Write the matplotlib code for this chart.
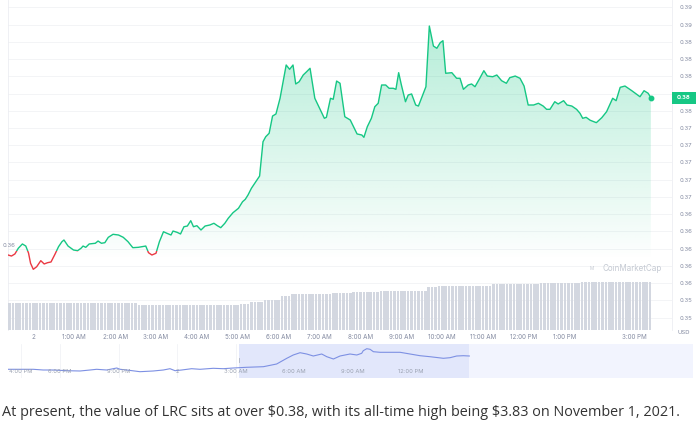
import numpy as np
import matplotlib
matplotlib.use('Agg')
import matplotlib.pyplot as plt
from matplotlib.patches import Polygon, Rectangle, Circle
from matplotlib import transforms

# ---------------- data ----------------
# minutes after midnight (day "2"), price in USD
minutes = [-37, -32, -27, -22, -16, -11, -7, -4, 0, 5, 11, 16, 21, 26, 32, 37, 42, 45, 51, 59,
           65, 70, 73, 77, 82, 91, 95, 100, 105, 110, 117, 125, 132, 139, 146, 154, 165, 169, 174, 180,
           185, 191, 196, 202, 205, 211, 216, 221, 226, 231, 235, 240, 246, 252, 259, 265, 270, 275, 281, 286,
           293, 301, 307, 311, 315, 320, 328, 332, 337, 341, 346, 351, 356, 362, 371, 376, 381, 385, 390, 396,
           401, 406, 413, 420, 427, 430, 436, 440, 445, 450, 457, 465, 475, 482, 485, 490, 496, 501, 506, 511,
           517, 522, 528, 532, 536, 540, 546, 550, 555, 561, 565, 576, 581, 587, 592, 597, 601, 605, 614, 621,
           626, 631, 638, 643, 648, 655, 661, 666, 674, 680, 687, 694, 699, 707, 714, 720, 726, 734, 741, 748,
           753, 758, 765, 770, 778, 783, 790, 797, 802, 806, 811, 817, 826, 834, 841, 850, 855, 861, 868, 878,
           890, 896, 902, 906]
price = [0.35927, 0.35915, 0.35939, 0.36005, 0.36055, 0.36031, 0.35950, 0.35831, 0.35761, 0.35791,
         0.35861, 0.35823, 0.35838, 0.35846, 0.35939, 0.36023, 0.36081, 0.36101, 0.36031, 0.35985,
         0.35977, 0.36005, 0.36031, 0.36016, 0.36055, 0.36063, 0.36089, 0.36063, 0.36070, 0.36132,
         0.36167, 0.36159, 0.36132, 0.36081, 0.36012, 0.36016, 0.36031, 0.35954, 0.35927, 0.35947,
         0.36081, 0.36197, 0.36179, 0.36159, 0.36205, 0.36190, 0.36171, 0.36255, 0.36263, 0.36325,
         0.36255, 0.36267, 0.36217, 0.36263, 0.36275, 0.36295, 0.36267, 0.36244, 0.36295, 0.36353,
         0.36418, 0.36469, 0.36545, 0.36573, 0.36623, 0.36701, 0.36797, 0.36843, 0.37241, 0.37299,
         0.37339, 0.37539, 0.37563, 0.37745, 0.38131, 0.38081, 0.38131, 0.37911, 0.37937, 0.38015,
         0.38053, 0.38093, 0.37745, 0.37629, 0.37513, 0.37524, 0.37745, 0.37733, 0.37945, 0.37919,
         0.37531, 0.37493, 0.37331, 0.37319, 0.37292, 0.37415, 0.37513, 0.37647, 0.37687, 0.37899,
         0.37899, 0.37861, 0.37861, 0.37849, 0.38042, 0.37899, 0.37705, 0.37783, 0.37795, 0.37667,
         0.37655, 0.37879, 0.38583, 0.38351, 0.38325, 0.38390, 0.38413, 0.38035, 0.38042, 0.37977,
         0.37977, 0.37849, 0.37899, 0.37911, 0.37879, 0.37977, 0.38065, 0.38003, 0.37995, 0.38015,
         0.37949, 0.37919, 0.37984, 0.38003, 0.37977, 0.37887, 0.37667, 0.37667, 0.37687, 0.37655,
         0.37617, 0.37617, 0.37705, 0.37679, 0.37717, 0.37667, 0.37655, 0.37617, 0.37571, 0.37513,
         0.37524, 0.37490, 0.37462, 0.37520, 0.37589, 0.37745, 0.37717, 0.37872, 0.37887, 0.37833,
         0.37763, 0.37833, 0.37803, 0.37752]
ref_price = 0.3597

price_ticks = [0.352, 0.354, 0.356, 0.358, 0.360, 0.362, 0.364, 0.366, 0.368, 0.370,
               0.372, 0.374, 0.376, 0.378, 0.380, 0.382, 0.384, 0.386, 0.388]
time_ticks = [0, 60, 120, 180, 240, 300, 360, 420, 480, 540, 600, 660, 720, 780, 900]
time_labels = ['2', '1:00 AM', '2:00 AM', '3:00 AM', '4:00 AM', '5:00 AM', '6:00 AM', '7:00 AM',
               '8:00 AM', '9:00 AM', '10:00 AM', '11:00 AM', '12:00 PM', '1:00 PM', '3:00 PM']

# volume bars every 5 minutes starting 23:25, read as step levels (millions USD)
vol_start, vol_step = -35, 5
vol_levels = [52.4, 49.0, 51.0, 55.6, 59.0, 67.0, 70.4, 72.0, 73.6, 75.6, 77.6, 84.4, 87.6,
              90.4, 92.4, 94.4, 95.6]
vol_counts = [38, 30, 3, 4, 5, 3, 7, 5, 6, 8, 14, 3, 16, 14, 12, 10, 11]

# navigator (hours relative to midnight)
nav_hours = [-8.65, -8.05, -7.37, -6.86, -6.34, -5.66, -4.97, -4.46, -4.12, -3.61, -3.27, -3.09,
             -2.92, -2.58, -1.90, -1.22, -0.70, -0.36, -0.10, 0.24, 0.75, 1.18, 1.86, 2.37, 2.89,
             3.57, 4.43, 5.11, 5.63, 5.96, 6.31, 6.65, 6.99, 7.42, 7.68, 8.02, 8.36, 8.87, 9.22,
             9.47, 9.55, 9.73, 9.90, 10.07, 10.41, 10.92, 11.44, 11.95, 12.46, 12.97, 13.66, 14.00,
             14.34, 14.68, 14.99]
nav_price = [0.35853, 0.35853, 0.35853, 0.35760, 0.35760, 0.35667, 0.35628, 0.35760, 0.35853,
             0.35760, 0.35932, 0.36025, 0.35853, 0.35760, 0.35535, 0.35628, 0.35760, 0.35932,
             0.35667, 0.35760, 0.35932, 0.35853, 0.35985, 0.35932, 0.36025, 0.36118, 0.36197,
             0.36555, 0.37310, 0.37747, 0.38051, 0.37879, 0.37614, 0.37879, 0.37522, 0.37217,
             0.37614, 0.37879, 0.37747, 0.37972, 0.38316, 0.38581, 0.38502, 0.38184, 0.38104,
             0.38104, 0.38104, 0.37879, 0.37654, 0.37522, 0.37310, 0.37389, 0.37614, 0.37654,
             0.37614]
nav_ticks = [-8, -6, -3, 0, 3, 6, 9, 12]
nav_labels = ['4:00 PM', '6:00 PM', '9:00 PM', '2', '3:00 AM', '6:00 AM', '9:00 AM', '12:00 PM']
nav_select = (3.18, 14.99)

caption = ("At present, the value of LRC sits at over $0.38, with its all-time high being "
           "$3.83 on November 1, 2021.")

# ---------------- style ----------------
GREEN = '#16c784'
RED = '#ea3943'
GRAY = '#858ca2'
plt.rcParams['font.family'] = ['Inter', 'DejaVu Sans']
plt.rcParams['text.parse_math'] = False

W, H = 698, 446
fig = plt.figure(figsize=(W / 100, H / 100), dpi=100)
fig.patch.set_facecolor('white')

def fx(px):
    return px / W

def fy(py):
    return 1 - py / H

# main price axes
ax = fig.add_axes([fx(8), fy(330), fx(672) - fx(8), 330 / H])
ax.set_zorder(1)
xmin, xmax = -37.1, 937.0
ybot, ytop = 0.35057, 0.38885
ax.set_xlim(xmin, xmax)
ax.set_ylim(ybot, ytop)

ax.yaxis.tick_right()
ax.set_yticks(price_ticks)
ax.set_yticklabels([f'{v:.2f}' for v in price_ticks])
ax.set_xticks(time_ticks)
ax.set_xticklabels(time_labels)
ax.get_xticklabels()[-1].set_horizontalalignment('right')
ax.tick_params(axis='y', length=0, pad=5.5, labelsize=4.3, labelcolor=GRAY)
ax.tick_params(axis='x', length=0, pad=3.2, labelsize=4.5, labelcolor=GRAY)
ax.yaxis.grid(True, color='#f1f2f5', lw=0.6)
ax.set_axisbelow(True)
for s in ['top', 'bottom']:
    ax.spines[s].set_visible(False)
for s in ['left', 'right']:
    ax.spines[s].set_color('#eceef2')
    ax.spines[s].set_linewidth(0.6)

mins = np.array(minutes, dtype=float)
pr = np.array(price)

# gradient fill under line
verts = list(zip(mins, pr)) + [(mins[-1], ybot), (mins[0], ybot)]
poly = Polygon(verts, closed=True, facecolor='none', edgecolor='none')
ax.add_patch(poly)
ny = 300
yy = np.linspace(ytop, ybot, ny)
alpha = np.clip((yy - 0.3588) / (ytop - 0.3588), 0, 1) ** 0.9 * 0.34
grad = np.zeros((ny, 2, 4))
rgb = matplotlib.colors.to_rgb(GREEN)
grad[..., 0], grad[..., 1], grad[..., 2] = rgb
grad[..., 3] = alpha[:, None]
im = ax.imshow(grad, extent=[xmin, xmax, ybot, ytop], aspect='auto', origin='upper',
               interpolation='bilinear', zorder=1)
im.set_clip_path(poly)

# line, green above reference, red below
ln_g, = ax.plot(mins, pr, color=GREEN, lw=1.0, zorder=3, solid_joinstyle='round')
ln_r, = ax.plot(mins, pr, color=RED, lw=1.0, zorder=3, solid_joinstyle='round')
clip_up = Rectangle((xmin, ref_price), xmax - xmin, ytop - ref_price, transform=ax.transData,
                    facecolor='none', edgecolor='none')
clip_dn = Rectangle((xmin, ybot), xmax - xmin, ref_price - ybot, transform=ax.transData,
                    facecolor='none', edgecolor='none')
ax.add_patch(clip_up)
ax.add_patch(clip_dn)
ln_g.set_clip_path(clip_up)
ln_r.set_clip_path(clip_dn)
ax.plot([mins[-1]], [pr[-1]], 'o', color=GREEN, ms=3.2, zorder=4)

# reference label on left
ax.annotate(f'{ref_price:.2f}', xy=(fx(3), ref_price), xycoords=('figure fraction', 'data'),
            xytext=(0, 4.3), textcoords='offset points', ha='left', va='center',
            fontsize=4.3, color=GRAY, annotation_clip=False)

# current price tag
tag_tr = transforms.blended_transform_factory(fig.transFigure, ax.transData)
tag_h = 12 * (ytop - ybot) / 330
tag = Rectangle((fx(672), pr[-1] - tag_h / 2), fx(696) - fx(672), tag_h, transform=tag_tr,
                facecolor=GREEN, edgecolor='none', clip_on=False, zorder=10)
ax.add_patch(tag)
ax.text(fx(684), pr[-1], f'{pr[-1]:.2f}', transform=tag_tr, ha='center', va='center',
        fontsize=4.3, color='white', fontweight='bold', clip_on=False, zorder=11)

# volume axes
axv = fig.add_axes(ax.get_position())
axv.set_zorder(2)
axv.patch.set_visible(False)
vol = np.repeat(vol_levels, vol_counts)
vol_t = vol_start + vol_step * np.arange(len(vol))
axv.bar(vol_t, vol, width=3.8, color='#d3d7e0', linewidth=0)
axv.set_xlim(xmin, xmax)
axv.set_ylim(-1, 660)
axv.axis('off')

fig.text(fx(678), fy(332), 'USD', fontsize=4.3, color=GRAY, va='center', ha='left')

# watermark
fig.text(fx(602.5), fy(268.3), 'CoinMarketCap', fontsize=5.8, color='#c5cad3', va='center',
         ha='left')
fig.add_artist(Circle((5.917, (H - 268.3) / 100), 0.045, transform=fig.dpi_scale_trans,
                      facecolor='none', edgecolor='#c5cad3', lw=1.0))
fig.text(fx(591.7), fy(268.3), 'M', fontsize=3.4, color='#c5cad3', va='center', ha='center')

# navigator
axn = fig.add_axes([fx(8), fy(378), fx(693) - fx(8), 34 / H])
axn.set_xlim(-8.667, 26.46)
axn.set_ylim(0.3470, 0.39204)
axn.axis('off')
for t in nav_ticks:
    axn.axvline(t, color='#eef0f4', lw=0.5, zorder=0)
axn.axvspan(nav_select[0], nav_select[1], color='#e2e7fb', lw=0, zorder=1)
axn.axvspan(nav_select[1], 26.46, color='#f2f4fe', lw=0, zorder=1)
axn.plot(nav_hours, nav_price, color='#7d90e3', lw=0.8, zorder=3)
ntr = transforms.blended_transform_factory(axn.transData, axn.transAxes)
for t, lab in zip(nav_ticks, nav_labels):
    axn.text(t, 0.18, lab, transform=ntr, fontsize=4.2, color='#9aa1b0', ha='center',
             va='center', zorder=4)
axn.plot([nav_select[0], nav_select[0]], [0.47, 0.59], transform=ntr, color='#aeb4c2', lw=0.6,
         zorder=4)

# caption
cap = fig.text(fx(2), fy(413), caption, fontsize=10, color='#333333', va='center', ha='left',
               family=['Open Sans', 'DejaVu Sans'])
fig.canvas.draw()
w = cap.get_window_extent().width
cap.set_fontsize(10 * 679 / w)

fig.savefig('out.png', dpi=100, facecolor='white')
